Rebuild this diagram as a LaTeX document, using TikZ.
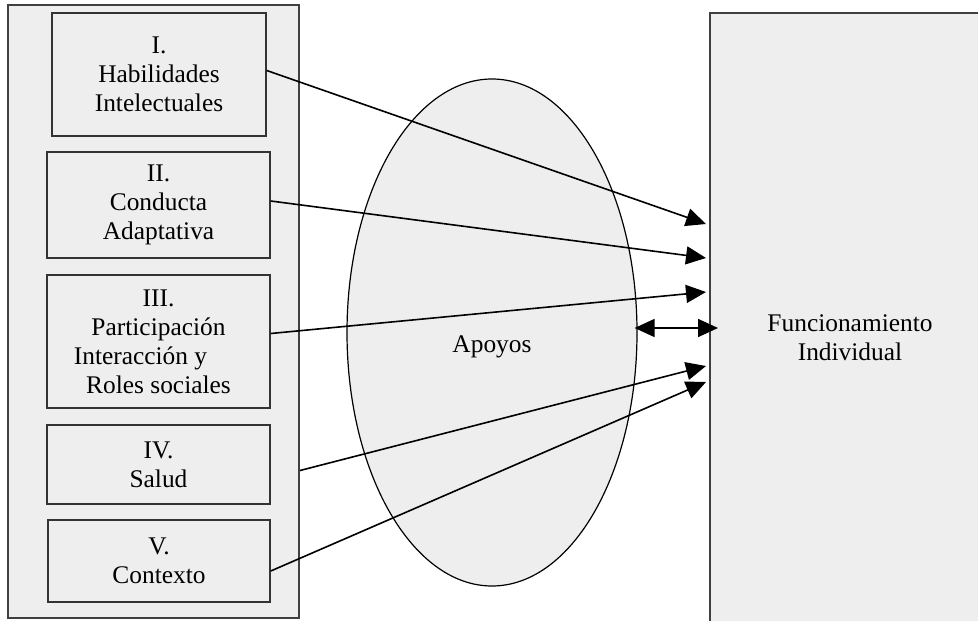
\documentclass[tikz,border=0pt]{standalone}
\usepackage{fontspec}
\setmainfont{Liberation Serif}
\usetikzlibrary{shapes.geometric,arrows.meta}

\definecolor{panel}{HTML}{EEEEEE}
\tikzset{
    area/.style={draw=black!75, fill=panel, line width=1pt, inner sep=0pt},
    dimbox/.style={draw=black!80, fill=panel, line width=0.75pt, inner sep=0pt,
        align=center, font=\fontsize{12.7}{14.5}\selectfont},
    txt/.style={align=center, font=\fontsize{12.7}{14.5}\selectfont},
    arr/.style={-{Triangle[length=10pt,width=9pt]}, line width=0.8pt},
    arrboth/.style={{Triangle[length=10pt,width=9pt]}-{Triangle[length=10pt,width=9pt]}, line width=0.8pt},
}

\begin{document}
\begin{tikzpicture}[x=0.5pt, y=-0.5pt]
        \useasboundingbox (0,0) rectangle (978,620);

        % Left panel with the five dimensions
        \node[area, minimum width=145.5pt, minimum height=306.5pt] (outer) at (153.5,311.5) {};
        \node[dimbox, minimum width=107pt, minimum height=61.5pt] (hab) at (159,74.5)
            {I.\\Habilidades\\Intelectuales};
        \node[dimbox, minimum width=111.5pt, minimum height=53pt] (cond) at (158.5,205)
            {II.\\Conducta\\Adaptativa};
        \node[dimbox, minimum width=111.5pt, minimum height=66.5pt] (part) at (158.5,341.5)
            {III.\\Participación\\Interacción y\kern18pt\\Roles sociales};
        \node[dimbox, minimum width=111.5pt, minimum height=39.5pt] (salud) at (158.5,464.5)
            {IV.\\Salud};
        \node[dimbox, minimum width=111pt, minimum height=41pt] (ctx) at (159,561)
            {V.\\Contexto};

        % Supports
        \node[ellipse, draw, fill=panel, line width=0.6pt, inner sep=0pt,
            minimum width=145pt, minimum height=253.5pt] (apoyos) at (492,332.5) {};
        \node[txt] (apoyostxt) at (492,347) {Apoyos};

        % Individual functioning (runs off the page)
        \node[area, txt, minimum width=140pt, minimum height=324.5pt] (func) at (850,337.5)
            {Funcionamiento\\Individual};

        % Arrow targets
        \coordinate (t1) at (706,224);
        \coordinate (t2) at (706,258);
        \coordinate (t3) at (706,292);
        \coordinate (t4) at (706,366);
        \coordinate (t5) at (706,382);

        \draw[arr] ([yshift=2pt]hab.east) -- (t1);
        \draw[arr] ([yshift=2pt]cond.east) -- (t2);
        \draw[arr] ([yshift=4pt]part.east) -- (t3);
        \draw[arr] ([yshift=-3pt]outer.east |- salud.east) -- (t4);
        \draw[arr] ([yshift=-5pt]ctx.east) -- (t5);
        \draw[arrboth, shorten <=-1.5pt, shorten >=-4.5pt]
            ([yshift=2.25pt]apoyos.east) -- ([yshift=2.25pt]apoyos.east -| func.west);
\end{tikzpicture}
\end{document}
